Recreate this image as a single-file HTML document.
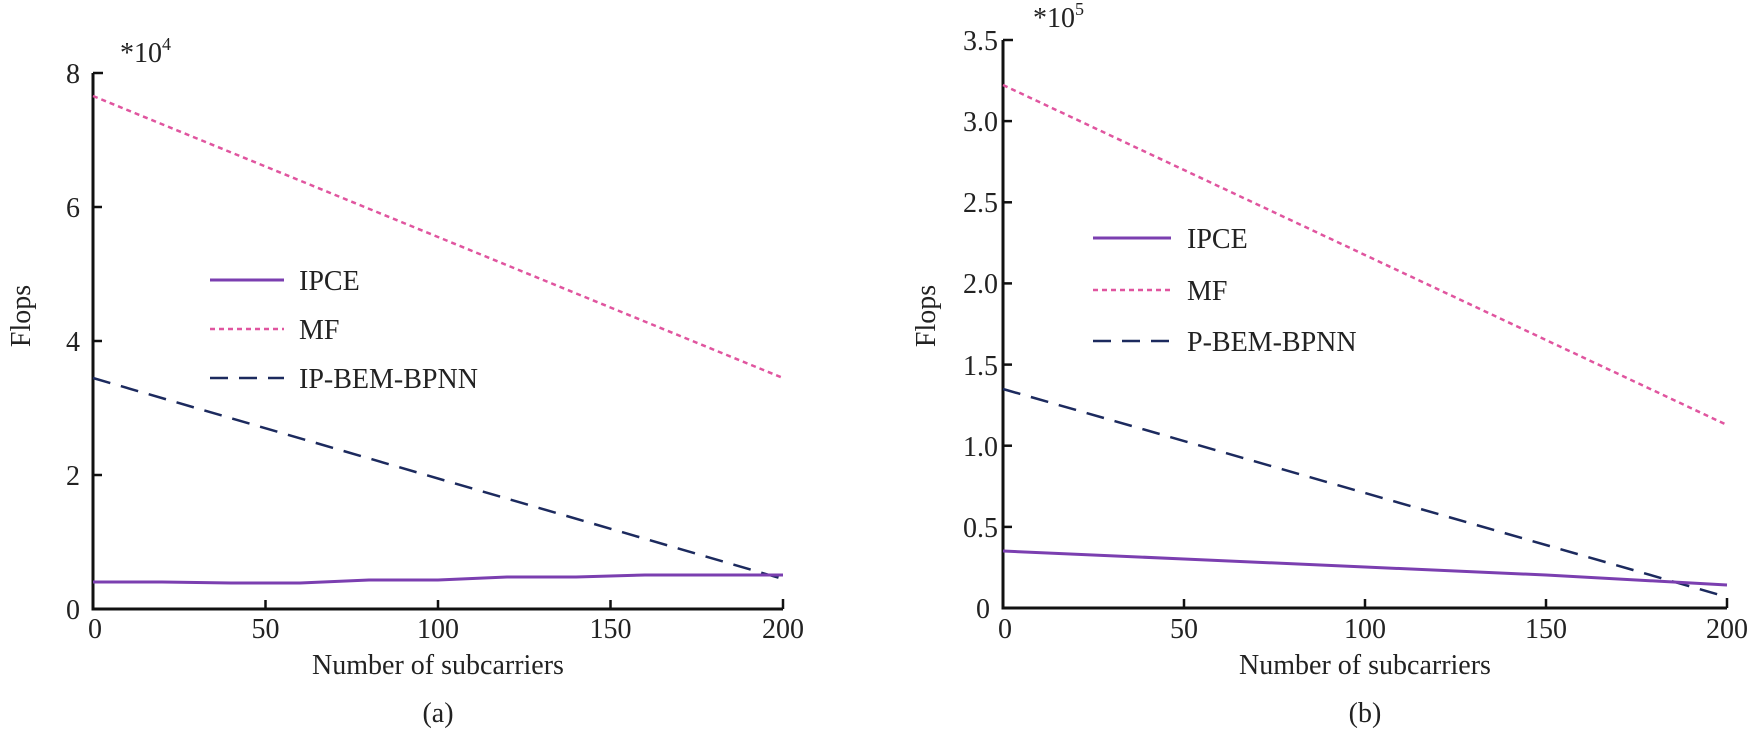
<!DOCTYPE html>
<html><head><meta charset="utf-8"><style>
html,body{margin:0;padding:0;background:#fff;}
svg{display:block;}
text{font-family:"Liberation Serif",serif;fill:#222;}
</style></head><body>
<svg width="1750" height="734" viewBox="0 0 1750 734" xmlns="http://www.w3.org/2000/svg">
<g font-size="28">
<path d="M93,73 L93,609 L783,609" fill="none" stroke="#111" stroke-width="3"/>
<g stroke="#111" stroke-width="2.5">
<line x1="93" y1="475" x2="102" y2="475"/><line x1="93" y1="341" x2="102" y2="341"/>
<line x1="93" y1="207" x2="102" y2="207"/><line x1="93" y1="73" x2="103" y2="73"/>
<line x1="265.5" y1="609" x2="265.5" y2="600"/><line x1="438" y1="609" x2="438" y2="600"/>
<line x1="610.5" y1="609" x2="610.5" y2="600"/><line x1="783" y1="609" x2="783" y2="599"/>
</g>
<g text-anchor="end">
<text x="80" y="619">0</text><text x="80" y="485">2</text><text x="80" y="351">4</text>
<text x="80" y="217">6</text><text x="80" y="83">8</text>
</g>
<g text-anchor="middle">
<text x="95" y="638">0</text><text x="265.5" y="638">50</text><text x="438" y="638">100</text>
<text x="610.5" y="638">150</text><text x="783" y="638">200</text>
<text x="438" y="674">Number of subcarriers</text>
<text x="438" y="722">(a)</text>
</g>
<text x="120" y="62">*10<tspan font-size="18" dy="-12">4</tspan></text>
<text transform="translate(30,316) rotate(-90)" text-anchor="middle">Flops</text>
<line x1="93" y1="96" x2="783" y2="378" stroke="#e0559f" stroke-width="2.5" stroke-dasharray="5,4"/>
<line x1="93" y1="378" x2="783" y2="579" stroke="#1c2a5e" stroke-width="2.5" stroke-dasharray="18,11"/>
<polyline points="93,582 162,582 231,583 300,583 369,580 438,580 507,577 576,577 645,575 714,575 783,575" fill="none" stroke="#7b3fb0" stroke-width="3"/>
<line x1="210" y1="280" x2="284" y2="280" stroke="#7b3fb0" stroke-width="3"/>
<line x1="210" y1="329" x2="284" y2="329" stroke="#e0559f" stroke-width="2.5" stroke-dasharray="5,4"/>
<line x1="210" y1="378" x2="284" y2="378" stroke="#1c2a5e" stroke-width="2.5" stroke-dasharray="18,11"/>
<text x="299" y="290">IPCE</text><text x="299" y="339">MF</text><text x="299" y="388">IP-BEM-BPNN</text>

<path d="M1003,40 L1003,608 L1727,608" fill="none" stroke="#111" stroke-width="3"/>
<g stroke="#111" stroke-width="2.5">
<line x1="1003" y1="526.9" x2="1012" y2="526.9"/><line x1="1003" y1="445.7" x2="1012" y2="445.7"/>
<line x1="1003" y1="364.6" x2="1012" y2="364.6"/><line x1="1003" y1="283.4" x2="1012" y2="283.4"/>
<line x1="1003" y1="202.3" x2="1012" y2="202.3"/><line x1="1003" y1="121.1" x2="1012" y2="121.1"/>
<line x1="1003" y1="40" x2="1013" y2="40"/>
<line x1="1184" y1="608" x2="1184" y2="599"/><line x1="1365" y1="608" x2="1365" y2="599"/>
<line x1="1546" y1="608" x2="1546" y2="599"/><line x1="1727" y1="608" x2="1727" y2="598"/>
</g>
<g text-anchor="end">
<text x="990" y="618">0</text><text x="998" y="537">0.5</text><text x="998" y="456">1.0</text>
<text x="998" y="375">1.5</text><text x="998" y="293">2.0</text><text x="998" y="212">2.5</text>
<text x="998" y="131">3.0</text><text x="998" y="50">3.5</text>
</g>
<g text-anchor="middle">
<text x="1005" y="638">0</text><text x="1184" y="638">50</text><text x="1365" y="638">100</text>
<text x="1546" y="638">150</text><text x="1727" y="638">200</text>
<text x="1365" y="674">Number of subcarriers</text>
<text x="1365" y="722">(b)</text>
</g>
<text x="1033" y="27">*10<tspan font-size="18" dy="-12">5</tspan></text>
<text transform="translate(935,316) rotate(-90)" text-anchor="middle">Flops</text>
<line x1="1003" y1="85" x2="1727" y2="425" stroke="#e0559f" stroke-width="2.5" stroke-dasharray="5,4"/>
<line x1="1003" y1="389" x2="1727" y2="597" stroke="#1c2a5e" stroke-width="2.5" stroke-dasharray="18,11"/>
<polyline points="1003,551 1184,559 1365,567 1546,575 1727,585" fill="none" stroke="#7b3fb0" stroke-width="3"/>
<line x1="1093" y1="238" x2="1171" y2="238" stroke="#7b3fb0" stroke-width="3"/>
<line x1="1093" y1="290" x2="1171" y2="290" stroke="#e0559f" stroke-width="2.5" stroke-dasharray="5,4"/>
<line x1="1093" y1="341" x2="1171" y2="341" stroke="#1c2a5e" stroke-width="2.5" stroke-dasharray="18,11"/>
<text x="1187" y="248">IPCE</text><text x="1187" y="300">MF</text><text x="1187" y="351">P-BEM-BPNN</text>
</g>
</svg>
</body></html>
